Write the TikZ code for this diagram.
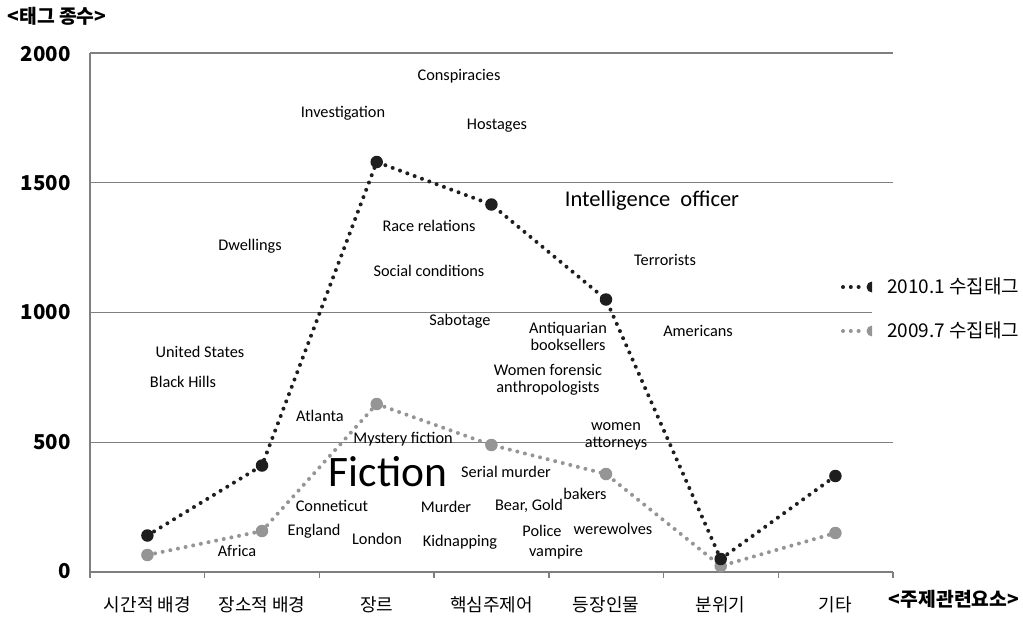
\documentclass[tikz,border=0pt]{standalone}
\usepackage{fontspec}
\setmainfont{Carlito}
\newfontfamily\kr{Noto Sans CJK KR}
\definecolor{darkser}{HTML}{1E1E1E}
\definecolor{liteser}{HTML}{959595}
\definecolor{gridc}{HTML}{7F7F7F}
\begin{document}
\begin{tikzpicture}[x=1pt,y=-1pt,
  gridln/.style={draw=gridc, line width=1.4pt},
  ylab/.style={anchor=east, inner sep=0pt, font=\kr\bfseries\fontsize{20.5}{22}\selectfont},
  catlbl/.style={inner sep=0pt, font=\kr\fontsize{18}{20}\selectfont},
  axtitle/.style={inner sep=0pt, font=\kr\bfseries\fontsize{19.3}{21}\selectfont},
  leglbl/.style={anchor=west, inner sep=0pt, font=\kr\fontsize{19}{21}\selectfont},
  lbl/.style={inner sep=0pt, align=center, font=\fontsize{16.3}{17}\selectfont},
  biglbl/.style={inner sep=0pt, font=\fontsize{22.5}{24}\selectfont},
  hugelbl/.style={inner sep=0pt, font=\fontsize{43.5}{46}\selectfont},
  serdark/.style={draw=darkser, line width=4pt, line cap=round, dash pattern=on 0pt off 7.8pt},
  serlite/.style={draw=liteser, line width=4pt, line cap=round, dash pattern=on 0pt off 7.8pt},
  mkdark/.style={circle, fill=darkser, minimum size=12.5pt, inner sep=0pt},
  mklite/.style={circle, fill=liteser, minimum size=12.5pt, inner sep=0pt}
]
\useasboundingbox (0,0) rectangle (1023,618);

% grid and axes
\draw[gridln] (90,53) -- (893,53);
\draw[gridln] (90,182.25) -- (893,182.25);
\draw[gridln] (90,312.5) -- (872,312.5);
\draw[gridln] (90,442.25) -- (893,442.25);
\draw[gridln] (90,53) -- (90,578);
\draw[gridln] (90,572) -- (893,572);
\foreach \x in {204.7,319.4,434.1,548.9,663.6,778.3,893}
  \draw[gridln] (\x,572) -- (\x,578);

% axis numbers
\node[ylab] (n2000) at (71,54) {2000};
\node[ylab] (n1500) at (71,183) {1500};
\node[ylab] (n1000) at (71,312) {1000};
\node[ylab] (n500) at (71,442) {500};
\node[ylab] (n0) at (71,571) {0};

% axis titles
\node[axtitle] (ytitle) at (57,16) {<태그 종수>};
\node[axtitle] (xtitle) at (954,599) {<주제관련요소>};

% categories
\node[catlbl] (c1) at (147.4,605) {시간적 배경};
\node[catlbl] (c2) at (262,605) {장소적 배경};
\node[catlbl] (c3) at (376.7,605) {장르};
\node[catlbl] (c4) at (491.4,605) {핵심주제어};
\node[catlbl] (c5) at (606,605) {등장인물};
\node[catlbl] (c6) at (720.7,605) {분위기};
\node[catlbl] (c7) at (835.4,605) {기타};

% tag words
\node[lbl] (w1) at (459,76) {Conspiracies};
\node[lbl] (w2) at (343,113) {Investigation};
\node[lbl] (w3) at (497,126) {Hostages};
\node[biglbl] (w4) at (652,201) {Intelligence\ \ officer};
\node[lbl] (w5) at (429,226) {Race relations};
\node[lbl] (w6) at (250,246) {Dwellings};
\node[lbl] (w7) at (429,271) {Social conditions};
\node[lbl] (w8) at (665,260) {Terrorists};
\node[lbl] (w9) at (460,321) {Sabotage};
\node[lbl] (w10) at (568,336) {Antiquarian\\booksellers};
\node[lbl] (w11) at (698,331) {Americans};
\node[lbl] (w12) at (200,352) {United States};
\node[lbl] (w13) at (183,382) {Black Hills};
\node[lbl] (w14) at (548,380) {Women forensic\\anthropologists};
\node[lbl] (w15) at (320,416) {Atlanta};
\node[lbl] (w16) at (403,439) {Mystery fiction};
\node[lbl] (w17) at (616,436) {women\\attorneys};
\node[hugelbl] (w18) at (388,472) {Fiction};
\node[lbl] (w19) at (506,472) {Serial murder};
\node[lbl] (w20) at (585,494) {bakers};
\node[lbl] (w21) at (332,506) {Conneticut};
\node[lbl] (w22) at (446,507) {Murder};
\node[lbl] (w23) at (529,506) {Bear, Gold};
\node[lbl] (w24) at (314,531) {England};
\node[lbl] (w25) at (377,539) {London};
\node[lbl] (w26) at (460,542) {Kidnapping};
\node[lbl] (w27) at (542,531) {Police};
\node[lbl] (w28) at (613,529) {werewolves};
\node[lbl] (w29) at (556,552) {vampire};
\node[lbl] (w30) at (237,551) {Africa};

% 2009.7 series (grey)
\coordinate (g1) at (147.4,555);
\coordinate (g2) at (262,531);
\coordinate (g3) at (376.7,404);
\coordinate (g4) at (491.4,445);
\coordinate (g5) at (606,474);
\coordinate (g6) at (720.7,566);
\coordinate (g7) at (835.4,533);
\draw[serlite] (g1) -- (g2) -- (g3) -- (g4) -- (g5) -- (g6) -- (g7);
\foreach \i in {1,...,7} \node[mklite] (mg\i) at (g\i) {};

% 2010.1 series (dark)
\coordinate (d1) at (147.4,535.5);
\coordinate (d2) at (262,465.5);
\coordinate (d3) at (376.7,162);
\coordinate (d4) at (491.4,204.5);
\coordinate (d5) at (606,299.5);
\coordinate (d6) at (720.7,559);
\coordinate (d7) at (835.4,476);
\draw[serdark] (d1) -- (d2) -- (d3) -- (d4) -- (d5) -- (d6) -- (d7);
\foreach \i in {1,...,7} \node[mkdark] (md\i) at (d\i) {};

% legend
\coordinate (la1) at (843,287);
\coordinate (lb1) at (866,287);
\coordinate (la2) at (843,331);
\coordinate (lb2) at (866,331);
\draw[serdark] (la1) -- (lb1);
\draw[serlite] (la2) -- (lb2);
\begin{scope}
  \clip (860,270) rectangle (872,345);
  \fill[darkser] (872,287) circle (5.5);
  \fill[liteser] (872,331) circle (5.5);
\end{scope}
\node[leglbl] (l1) at (887,286) {2010.1 수집태그};
\node[leglbl] (l2) at (887,330) {2009.7 수집태그};
\end{tikzpicture}
\end{document}
